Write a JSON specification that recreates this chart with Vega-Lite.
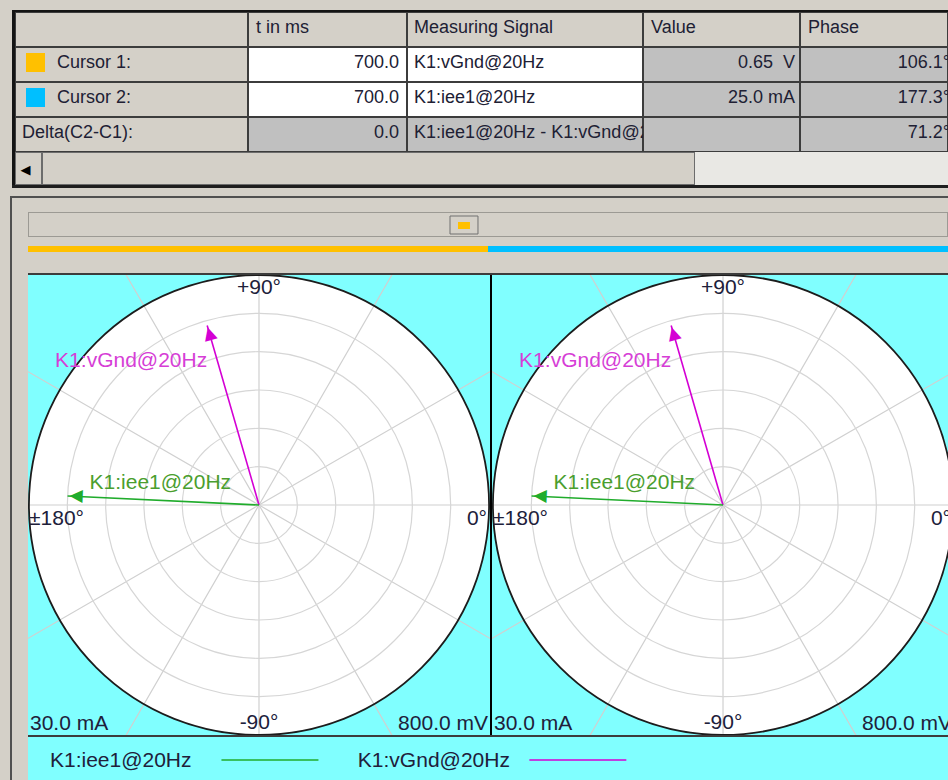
{
  "$schema": "https://vega.github.io/schema/vega-lite/v6.json",
  "background": "#d4d0c8",
  "padding": 0,
  "spacing": 0,
  "bounds": "full",
  "resolve": {"scale": {"color": "independent", "fill": "independent"}},
  "config": {"view": {"stroke": null}, "font": "Liberation Sans", "concat": {"spacing": 0}},
  "datasets": {
    "table": [
      {"row": "header", "col": "label", "text": "", "state": "header"},
      {"row": "c1", "col": "label", "text": "Cursor 1:", "state": "header", "cursor": "Cursor 1"},
      {"row": "c2", "col": "label", "text": "Cursor 2:", "state": "header", "cursor": "Cursor 2"},
      {"row": "delta", "col": "label", "text": "Delta(C2-C1):", "state": "header"},
      {"row": "header", "col": "t", "text": "t in ms", "state": "header"},
      {"row": "c1", "col": "t", "text": "700.0", "state": "input"},
      {"row": "c2", "col": "t", "text": "700.0", "state": "input"},
      {"row": "delta", "col": "t", "text": "0.0", "state": "output"},
      {"row": "header", "col": "signal", "text": "Measuring Signal", "state": "header"},
      {"row": "c1", "col": "signal", "text": "K1:vGnd@20Hz", "state": "input"},
      {"row": "c2", "col": "signal", "text": "K1:iee1@20Hz", "state": "input"},
      {"row": "delta", "col": "signal", "text": "K1:iee1@20Hz - K1:vGnd@20Hz", "state": "output"},
      {"row": "header", "col": "value", "text": "Value", "state": "header"},
      {"row": "c1", "col": "value", "text": "0.65\u00a0\u00a0V", "state": "output"},
      {"row": "c2", "col": "value", "text": "25.0 mA", "state": "output"},
      {"row": "delta", "col": "value", "text": "", "state": "output"},
      {"row": "header", "col": "phase", "text": "Phase", "state": "header"},
      {"row": "c1", "col": "phase", "text": "106.1°", "state": "output"},
      {"row": "c2", "col": "phase", "text": "177.3°", "state": "output"},
      {"row": "delta", "col": "phase", "text": "71.2°", "state": "output"}
    ],
    "cursors": [{"cursor": "Cursor 1"}, {"cursor": "Cursor 2"}],
    "phasors": [
      {"signal": "K1:vGnd@20Hz", "value": 0.65, "unit": "V", "phase": 106.1, "fullScale": 0.8, "scaleLabel": "800.0 mV"},
      {"signal": "K1:iee1@20Hz", "value": 25.0, "unit": "mA", "phase": 177.3, "fullScale": 30, "scaleLabel": "30.0 mA"}
    ],
    "rings": [{"ring": 1}, {"ring": 2}, {"ring": 3}, {"ring": 4}, {"ring": 5}, {"ring": 6}],
    "spokes": [{"deg": 0}, {"deg": 30}, {"deg": 60}, {"deg": 90}, {"deg": 120}, {"deg": 150}, {"deg": 180}, {"deg": 210}, {"deg": 240}, {"deg": 270}, {"deg": 300}, {"deg": 330}],
    "angleLabels": [{"deg": 90, "label": "+90°"}, {"deg": 0, "label": "0°"}, {"deg": -90, "label": "-90°"}, {"deg": 180, "label": "±180°"}]
  },
  "vconcat": [
    {"width": 948, "height": 10, "data": {"values": [{}]}, "mark": {"type": "rect", "fill": "#d4d0c8", "strokeWidth": 0}, "encoding": {}},
    {"hconcat": [
      {"width": 12, "height": 2, "data": {"values": [{}]}, "mark": {"type": "rect", "fill": "#d4d0c8", "strokeWidth": 0}, "encoding": {}},
      {"width": 936, "height": 2, "data": {"values": [{}]}, "mark": {"type": "rect", "fill": "#141414", "strokeWidth": 0}, "encoding": {}}
    ], "spacing": 0, "bounds": "flush"},
    {"hconcat": [
      {"width": 12, "height": 140, "data": {"values": [{}]}, "mark": {"type": "rect", "fill": "#d4d0c8", "strokeWidth": 0}, "encoding": {}},
      {"width": 3, "height": 140, "data": {"values": [{}]}, "mark": {"type": "rect", "fill": "#141414", "strokeWidth": 0}, "encoding": {}},
      {
        "width": 233, "height": 140,
        "data": {"name": "table"},
        "transform": [{"filter": "datum.col === 'label'"}],
        "encoding": {"y": {"field": "row", "type": "nominal", "scale": {"domain": ["header", "c1", "c2", "delta"], "paddingInner": 0, "paddingOuter": 0}, "axis": null}},
        "layer": [
          {"mark": {"type": "rect", "stroke": "#3c3c3c", "strokeWidth": 2, "clip": true},
           "encoding": {"x": {"datum": 0, "type": "quantitative", "scale": {"domain": [0, 1], "nice": false, "zero": false}, "axis": null}, "x2": {"datum": 1},
             "fill": {"field": "state", "type": "nominal", "scale": {"domain": ["header", "input", "output"], "range": ["#d4d0c8", "#ffffff", "#c0c0c0"]}, "legend": null}}},
          {"transform": [{"filter": "isValid(datum.cursor)"}],
           "mark": {"type": "point", "shape": "square", "filled": true, "size": 361, "opacity": 1, "strokeWidth": 0, "xOffset": 20.5, "yOffset": -2},
           "encoding": {"x": {"datum": 0, "type": "quantitative", "scale": {"domain": [0, 1], "nice": false, "zero": false}, "axis": null},
             "color": {"field": "cursor", "type": "nominal", "scale": {"domain": ["Cursor 1", "Cursor 2"], "range": ["#ffc000", "#00bfff"]}, "legend": null}}},
          {"transform": [{"filter": "isValid(datum.cursor)"}],
           "mark": {"type": "text", "align": "left", "baseline": "middle", "dx": 42, "dy": -2, "fontSize": 18, "fill": "#202034"},
           "encoding": {"x": {"datum": 0, "type": "quantitative", "scale": {"domain": [0, 1], "nice": false, "zero": false}, "axis": null}, "text": {"field": "text"}}},
          {"transform": [{"filter": "datum.row === 'delta'"}],
           "mark": {"type": "text", "align": "left", "baseline": "middle", "dx": 7, "dy": -2, "fontSize": 18, "fill": "#202034"},
           "encoding": {"x": {"datum": 0, "type": "quantitative", "scale": {"domain": [0, 1], "nice": false, "zero": false}, "axis": null}, "text": {"field": "text"}}}
        ]
      },
      {
        "width": 159, "height": 140,
        "data": {"name": "table"},
        "transform": [{"filter": "datum.col === 't'"}],
        "encoding": {"y": {"field": "row", "type": "nominal", "scale": {"domain": ["header", "c1", "c2", "delta"], "paddingInner": 0, "paddingOuter": 0}, "axis": null}},
        "layer": [
          {"mark": {"type": "rect", "stroke": "#3c3c3c", "strokeWidth": 2, "clip": true},
           "encoding": {"x": {"datum": 0, "type": "quantitative", "scale": {"domain": [0, 1], "nice": false, "zero": false}, "axis": null}, "x2": {"datum": 1},
             "fill": {"field": "state", "type": "nominal", "scale": {"domain": ["header", "input", "output"], "range": ["#d4d0c8", "#ffffff", "#c0c0c0"]}, "legend": null}}},
          {"transform": [{"filter": "datum.row === 'header'"}],
           "mark": {"type": "text", "align": "left", "baseline": "middle", "dx": 8, "dy": -2, "fontSize": 18, "fill": "#202034"},
           "encoding": {"x": {"datum": 0, "type": "quantitative", "scale": {"domain": [0, 1], "nice": false, "zero": false}, "axis": null}, "text": {"field": "text"}}},
          {"transform": [{"filter": "datum.row !== 'header'"}],
           "mark": {"type": "text", "align": "right", "baseline": "middle", "dx": -8, "dy": -2, "fontSize": 18, "fill": "#202034"},
           "encoding": {"x": {"datum": 1, "type": "quantitative", "scale": {"domain": [0, 1], "nice": false, "zero": false}, "axis": null}, "text": {"field": "text"}}}
        ]
      },
      {
        "width": 236, "height": 140,
        "data": {"name": "table"},
        "transform": [{"filter": "datum.col === 'signal'"}],
        "encoding": {"y": {"field": "row", "type": "nominal", "scale": {"domain": ["header", "c1", "c2", "delta"], "paddingInner": 0, "paddingOuter": 0}, "axis": null}},
        "layer": [
          {"mark": {"type": "rect", "stroke": "#3c3c3c", "strokeWidth": 2, "clip": true},
           "encoding": {"x": {"datum": 0, "type": "quantitative", "scale": {"domain": [0, 1], "nice": false, "zero": false}, "axis": null}, "x2": {"datum": 1},
             "fill": {"field": "state", "type": "nominal", "scale": {"domain": ["header", "input", "output"], "range": ["#d4d0c8", "#ffffff", "#c0c0c0"]}, "legend": null}}},
          {"mark": {"type": "text", "align": "left", "baseline": "middle", "dx": 7, "dy": -2, "fontSize": 18, "fill": "#202034", "clip": true},
           "encoding": {"x": {"datum": 0, "type": "quantitative", "scale": {"domain": [0, 1], "nice": false, "zero": false}, "axis": null}, "text": {"field": "text"}}}
        ]
      },
      {
        "width": 157, "height": 140,
        "data": {"name": "table"},
        "transform": [{"filter": "datum.col === 'value'"}],
        "encoding": {"y": {"field": "row", "type": "nominal", "scale": {"domain": ["header", "c1", "c2", "delta"], "paddingInner": 0, "paddingOuter": 0}, "axis": null}},
        "layer": [
          {"mark": {"type": "rect", "stroke": "#3c3c3c", "strokeWidth": 2, "clip": true},
           "encoding": {"x": {"datum": 0, "type": "quantitative", "scale": {"domain": [0, 1], "nice": false, "zero": false}, "axis": null}, "x2": {"datum": 1},
             "fill": {"field": "state", "type": "nominal", "scale": {"domain": ["header", "input", "output"], "range": ["#d4d0c8", "#ffffff", "#c0c0c0"]}, "legend": null}}},
          {"transform": [{"filter": "datum.row === 'header'"}],
           "mark": {"type": "text", "align": "left", "baseline": "middle", "dx": 8, "dy": -2, "fontSize": 18, "fill": "#202034"},
           "encoding": {"x": {"datum": 0, "type": "quantitative", "scale": {"domain": [0, 1], "nice": false, "zero": false}, "axis": null}, "text": {"field": "text"}}},
          {"transform": [{"filter": "datum.row !== 'header'"}],
           "mark": {"type": "text", "align": "right", "baseline": "middle", "dx": -5, "dy": -2, "fontSize": 18, "fill": "#202034"},
           "encoding": {"x": {"datum": 1, "type": "quantitative", "scale": {"domain": [0, 1], "nice": false, "zero": false}, "axis": null}, "text": {"field": "text"}}}
        ]
      },
      {
        "width": 148, "height": 140,
        "data": {"name": "table"},
        "transform": [{"filter": "datum.col === 'phase'"}],
        "encoding": {"y": {"field": "row", "type": "nominal", "scale": {"domain": ["header", "c1", "c2", "delta"], "paddingInner": 0, "paddingOuter": 0}, "axis": null}},
        "layer": [
          {"mark": {"type": "rect", "stroke": "#3c3c3c", "strokeWidth": 2, "clip": true},
           "encoding": {"x": {"datum": 0, "type": "quantitative", "scale": {"domain": [0, 1], "nice": false, "zero": false}, "axis": null}, "x2": {"datum": 1},
             "fill": {"field": "state", "type": "nominal", "scale": {"domain": ["header", "input", "output"], "range": ["#d4d0c8", "#ffffff", "#c0c0c0"]}, "legend": null}}},
          {"transform": [{"filter": "datum.row === 'header'"}],
           "mark": {"type": "text", "align": "left", "baseline": "middle", "dx": 8, "dy": -2, "fontSize": 18, "fill": "#202034"},
           "encoding": {"x": {"datum": 0, "type": "quantitative", "scale": {"domain": [0, 1], "nice": false, "zero": false}, "axis": null}, "text": {"field": "text"}}},
          {"transform": [{"filter": "datum.row !== 'header'"}],
           "mark": {"type": "text", "align": "right", "baseline": "middle", "dx": 2, "dy": -2, "fontSize": 18, "fill": "#202034", "clip": true},
           "encoding": {"x": {"datum": 1, "type": "quantitative", "scale": {"domain": [0, 1], "nice": false, "zero": false}, "axis": null}, "text": {"field": "text"}}}
        ]
      }
    ], "spacing": 0, "bounds": "flush"},
    {"hconcat": [
      {"width": 12, "height": 33, "data": {"values": [{}]}, "mark": {"type": "rect", "fill": "#d4d0c8", "strokeWidth": 0}, "encoding": {}},
      {"width": 3, "height": 33, "data": {"values": [{}]}, "mark": {"type": "rect", "fill": "#141414", "strokeWidth": 0}, "encoding": {}},
      {"width": 27, "height": 33, "data": {"values": [{}]},
       "layer": [
         {"mark": {"type": "rect", "fill": "#d4d0c8", "stroke": "#6c6c6c", "strokeWidth": 2, "clip": true},
          "encoding": {"x": {"datum": 0, "type": "quantitative", "scale": {"domain": [0, 1], "nice": false, "zero": false}, "axis": null}, "x2": {"datum": 1},
            "y": {"datum": 0, "type": "quantitative", "scale": {"domain": [0, 1], "nice": false, "zero": false}, "axis": null}, "y2": {"datum": 1}}},
         {"mark": {"type": "text", "text": "◀", "font": "DejaVu Sans", "fontSize": 13, "fill": "#000000", "baseline": "middle", "dx": -3, "dy": 1},
          "encoding": {"x": {"datum": 0.5, "type": "quantitative", "scale": {"domain": [0, 1], "nice": false, "zero": false}, "axis": null},
            "y": {"datum": 0.5, "type": "quantitative", "scale": {"domain": [0, 1], "nice": false, "zero": false}, "axis": null}}}
       ]},
      {"width": 653, "height": 33, "data": {"values": [{}]},
       "mark": {"type": "rect", "fill": "#d4d0c8", "stroke": "#6c6c6c", "strokeWidth": 2, "clip": true},
       "encoding": {"x": {"datum": 0, "type": "quantitative", "scale": {"domain": [0, 1], "nice": false, "zero": false}, "axis": null}, "x2": {"datum": 1},
         "y": {"datum": 0, "type": "quantitative", "scale": {"domain": [0, 1], "nice": false, "zero": false}, "axis": null}, "y2": {"datum": 1}}},
      {"width": 253, "height": 33, "data": {"values": [{}]}, "mark": {"type": "rect", "fill": "#e9e8e4", "strokeWidth": 0}, "encoding": {}}
    ], "spacing": 0, "bounds": "flush"},
    {"hconcat": [
      {"width": 12, "height": 3, "data": {"values": [{}]}, "mark": {"type": "rect", "fill": "#d4d0c8", "strokeWidth": 0}, "encoding": {}},
      {"width": 936, "height": 3, "data": {"values": [{}]}, "mark": {"type": "rect", "fill": "#1e1e1e", "strokeWidth": 0}, "encoding": {}}
    ], "spacing": 0, "bounds": "flush"},
    {"width": 948, "height": 8, "data": {"values": [{}]}, "mark": {"type": "rect", "fill": "#d4d0c8", "strokeWidth": 0}, "encoding": {}},
    {"hconcat": [
      {"width": 10, "height": 2, "data": {"values": [{}]}, "mark": {"type": "rect", "fill": "#d4d0c8", "strokeWidth": 0}, "encoding": {}},
      {"width": 938, "height": 2, "data": {"values": [{}]}, "mark": {"type": "rect", "fill": "#505050", "strokeWidth": 0}, "encoding": {}}
    ], "spacing": 0, "bounds": "flush"},
    {"hconcat": [
      {"width": 10, "height": 582, "data": {"values": [{}]}, "mark": {"type": "rect", "fill": "#d4d0c8", "strokeWidth": 0}, "encoding": {}},
      {"width": 2, "height": 582, "data": {"values": [{}]}, "mark": {"type": "rect", "fill": "#505050", "strokeWidth": 0}, "encoding": {}},
      {"width": 16, "height": 582, "data": {"values": [{}]}, "mark": {"type": "rect", "fill": "#d4d0c8", "strokeWidth": 0}, "encoding": {}},
      {"vconcat": [
        {"width": 920, "height": 14, "data": {"values": [{}]}, "mark": {"type": "rect", "fill": "#d4d0c8", "strokeWidth": 0}, "encoding": {}},
        {
          "width": 920, "height": 25,
          "data": {"values": [{}]},
          "layer": [
            {"mark": {"type": "rect", "fill": "#d4d0c8", "stroke": "#9c9a94", "strokeWidth": 2, "clip": true},
             "encoding": {"x": {"datum": 0, "type": "quantitative", "scale": {"domain": [0, 1], "nice": false, "zero": false}, "axis": null}, "x2": {"datum": 1},
               "y": {"datum": 0, "type": "quantitative", "scale": {"domain": [0, 1], "nice": false, "zero": false}, "axis": null}, "y2": {"datum": 1}}},
            {"mark": {"type": "rect", "fill": "#d4d0c8", "stroke": "#707070", "strokeWidth": 1},
             "encoding": {"x": {"datum": 0.4587, "type": "quantitative", "scale": {"domain": [0, 1], "nice": false, "zero": false}, "axis": null}, "x2": {"datum": 0.4891},
               "y": {"datum": 0.12, "type": "quantitative", "scale": {"domain": [0, 1], "nice": false, "zero": false}, "axis": null}, "y2": {"datum": 0.84}}},
            {"mark": {"type": "rect", "fill": "#ffc000"},
             "encoding": {"x": {"datum": 0.4674, "type": "quantitative", "scale": {"domain": [0, 1], "nice": false, "zero": false}, "axis": null}, "x2": {"datum": 0.4804},
               "y": {"datum": 0.32, "type": "quantitative", "scale": {"domain": [0, 1], "nice": false, "zero": false}, "axis": null}, "y2": {"datum": 0.6}}}
          ]
        },
        {"width": 920, "height": 9, "data": {"values": [{}]}, "mark": {"type": "rect", "fill": "#d4d0c8", "strokeWidth": 0}, "encoding": {}},
        {
          "width": 920, "height": 6,
          "data": {"name": "cursors"},
          "mark": {"type": "rect", "strokeWidth": 0},
          "encoding": {
            "x": {"field": "cursor", "type": "nominal", "scale": {"domain": ["Cursor 1", "Cursor 2"], "paddingInner": 0, "paddingOuter": 0}, "axis": null},
            "fill": {"field": "cursor", "type": "nominal", "scale": {"domain": ["Cursor 1", "Cursor 2"], "range": ["#ffc000", "#00bfff"]}, "legend": null}
          }
        },
        {"width": 920, "height": 21, "data": {"values": [{}]}, "mark": {"type": "rect", "fill": "#d4d0c8", "strokeWidth": 0}, "encoding": {}},
        {"width": 920, "height": 2, "data": {"values": [{}]}, "mark": {"type": "rect", "fill": "#3c3c3c", "strokeWidth": 0}, "encoding": {}},
        {"hconcat": [
          {
            "width": 462, "height": 460,
            "resolve": {"scale": {"radius": "independent"}},
            "encoding": {
              "x": {"datum": 0, "type": "quantitative", "scale": {"domain": [-1, 1], "nice": false, "zero": false}, "axis": null},
              "y": {"datum": 0, "type": "quantitative", "scale": {"domain": [-1, 1], "nice": false, "zero": false}, "axis": null}
            },
            "layer": [
              {"data": {"values": [{}]},
               "mark": {"type": "rect", "fill": "#80ffff", "strokeWidth": 0},
               "encoding": {"x": {"datum": -1, "type": "quantitative", "axis": null}, "x2": {"datum": 1}, "y": {"datum": -1, "type": "quantitative", "axis": null}, "y2": {"datum": 1}}},
              {"data": {"name": "rings"}, "transform": [{"filter": "datum.ring === 6"}],
               "mark": {"type": "arc", "theta": 0, "theta2": 6.2832, "fill": "#ffffff", "stroke": null, "clip": true},
               "encoding": {"radius": {"field": "ring", "type": "quantitative", "stack": null, "scale": {"type": "linear", "domain": [0, 6], "range": [0, 230], "nice": false, "zero": true}}}},
              {"data": {"name": "spokes"},
               "mark": {"type": "arc", "fill": "transparent", "stroke": "#d0d0d0", "strokeWidth": 1.2, "clip": true},
               "encoding": {"theta": {"field": "deg", "type": "quantitative", "stack": null, "scale": {"domain": [90, -270], "range": [0, 6.283185307179586], "nice": false, "zero": false}},
                 "theta2": {"field": "deg"}, "radius": {"value": 340}}},
              {"data": {"name": "rings"}, "transform": [{"filter": "datum.ring < 6"}],
               "mark": {"type": "arc", "theta": 0, "theta2": 6.2832, "fill": "transparent", "stroke": "#d6d6d6", "strokeWidth": 1.2, "clip": true},
               "encoding": {"radius": {"field": "ring", "type": "quantitative", "stack": null, "scale": {"type": "linear", "domain": [0, 6], "range": [0, 230], "nice": false, "zero": true}}}},
              {"data": {"name": "rings"}, "transform": [{"filter": "datum.ring === 6"}],
               "mark": {"type": "arc", "theta": 0, "theta2": 6.2832, "fill": "transparent", "stroke": "#1c1c1c", "strokeWidth": 1.8, "clip": true},
               "encoding": {"radius": {"field": "ring", "type": "quantitative", "stack": null, "scale": {"type": "linear", "domain": [0, 6], "range": [0, 230], "nice": false, "zero": true}}}},
              {"data": {"name": "phasors"}, "transform": [{"filter": "datum.signal === 'K1:vGnd@20Hz'"}],
               "mark": {"type": "arc", "fill": "transparent", "stroke": "#d400d4", "strokeWidth": 1.6, "clip": true},
               "encoding": {"theta": {"field": "phase", "type": "quantitative", "stack": null, "scale": {"domain": [90, -270], "range": [0, 6.283185307179586], "nice": false, "zero": false}},
                 "theta2": {"field": "phase"},
                 "radius": {"field": "value", "type": "quantitative", "stack": null, "scale": {"type": "linear", "domain": [0, 0.8], "range": [0, 230], "nice": false, "zero": true}}}},
              {"data": {"name": "phasors"}, "transform": [{"filter": "datum.signal === 'K1:iee1@20Hz'"}],
               "mark": {"type": "arc", "fill": "transparent", "stroke": "#20ac2c", "strokeWidth": 1.6, "clip": true},
               "encoding": {"theta": {"field": "phase", "type": "quantitative", "stack": null, "scale": {"domain": [90, -270], "range": [0, 6.283185307179586], "nice": false, "zero": false}},
                 "theta2": {"field": "phase"},
                 "radius": {"field": "value", "type": "quantitative", "stack": null, "scale": {"type": "linear", "domain": [0, 30], "range": [0, 230], "nice": false, "zero": true}}}},
              {"data": {"name": "phasors"}, "transform": [{"filter": "datum.signal === 'K1:vGnd@20Hz'"}],
               "mark": {"type": "text", "text": "▲", "font": "DejaVu Sans", "fontSize": 17, "align": "center", "baseline": "top", "fill": "#d400d4", "clip": true},
               "encoding": {"theta": {"field": "phase", "type": "quantitative", "stack": null, "scale": {"domain": [90, -270], "range": [0, 6.283185307179586], "nice": false, "zero": false}},
                 "radius": {"field": "value", "type": "quantitative", "stack": null, "scale": {"type": "linear", "domain": [0, 0.8], "range": [0, 230], "nice": false, "zero": true}},
                 "angle": {"field": "phase", "type": "quantitative", "scale": {"domain": [90, -270], "range": [0, 360], "nice": false, "zero": false}}}},
              {"data": {"name": "phasors"}, "transform": [{"filter": "datum.signal === 'K1:iee1@20Hz'"}],
               "mark": {"type": "text", "text": "▲", "font": "DejaVu Sans", "fontSize": 17, "align": "center", "baseline": "top", "fill": "#20ac2c", "clip": true},
               "encoding": {"theta": {"field": "phase", "type": "quantitative", "stack": null, "scale": {"domain": [90, -270], "range": [0, 6.283185307179586], "nice": false, "zero": false}},
                 "radius": {"field": "value", "type": "quantitative", "stack": null, "scale": {"type": "linear", "domain": [0, 30], "range": [0, 230], "nice": false, "zero": true}},
                 "angle": {"field": "phase", "type": "quantitative", "scale": {"domain": [90, -270], "range": [0, 360], "nice": false, "zero": false}}}},
              {"data": {"name": "phasors"}, "transform": [{"filter": "datum.signal === 'K1:vGnd@20Hz'"}],
               "mark": {"type": "text", "align": "right", "baseline": "middle", "dx": 0, "dy": 36, "fontSize": 21, "fill": "#d63ed6", "clip": true},
               "encoding": {"theta": {"field": "phase", "type": "quantitative", "stack": null, "scale": {"domain": [90, -270], "range": [0, 6.283185307179586], "nice": false, "zero": false}},
                 "radius": {"field": "value", "type": "quantitative", "stack": null, "scale": {"type": "linear", "domain": [0, 0.8], "range": [0, 230], "nice": false, "zero": true}},
                 "text": {"field": "signal"}}},
              {"data": {"name": "phasors"}, "transform": [{"filter": "datum.signal === 'K1:iee1@20Hz'"}],
               "mark": {"type": "text", "align": "left", "baseline": "middle", "dx": 22, "dy": -13, "fontSize": 21, "fill": "#4a9e2e", "clip": true},
               "encoding": {"theta": {"field": "phase", "type": "quantitative", "stack": null, "scale": {"domain": [90, -270], "range": [0, 6.283185307179586], "nice": false, "zero": false}},
                 "radius": {"field": "value", "type": "quantitative", "stack": null, "scale": {"type": "linear", "domain": [0, 30], "range": [0, 230], "nice": false, "zero": true}},
                 "text": {"field": "signal"}}},
              {"data": {"name": "angleLabels"}, "transform": [{"filter": "datum.deg === 90 || datum.deg === -90"}],
               "mark": {"type": "text", "align": "center", "baseline": "middle", "fontSize": 21, "fill": "#20203a", "clip": true},
               "encoding": {"theta": {"field": "deg", "type": "quantitative", "stack": null, "scale": {"domain": [90, -270], "range": [0, 6.283185307179586], "nice": false, "zero": false}},
                 "radius": {"value": 217.5}, "text": {"field": "label"}}},
              {"data": {"name": "angleLabels"}, "transform": [{"filter": "datum.deg === 0"}],
               "mark": {"type": "text", "align": "right", "baseline": "middle", "dx": -2, "dy": 14, "fontSize": 21, "fill": "#20203a", "clip": true},
               "encoding": {"theta": {"field": "deg", "type": "quantitative", "stack": null, "scale": {"domain": [90, -270], "range": [0, 6.283185307179586], "nice": false, "zero": false}},
                 "radius": {"value": 230}, "text": {"field": "label"}}},
              {"data": {"name": "angleLabels"}, "transform": [{"filter": "datum.deg === 180"}],
               "mark": {"type": "text", "align": "left", "baseline": "middle", "dx": 0, "dy": 14, "fontSize": 21, "fill": "#20203a", "clip": true},
               "encoding": {"theta": {"field": "deg", "type": "quantitative", "stack": null, "scale": {"domain": [90, -270], "range": [0, 6.283185307179586], "nice": false, "zero": false}},
                 "radius": {"value": 230}, "text": {"field": "label"}}},
              {"data": {"name": "phasors"}, "transform": [{"filter": "datum.signal === 'K1:iee1@20Hz'"}],
               "mark": {"type": "text", "align": "left", "baseline": "alphabetic", "dx": 2, "dy": -5, "fontSize": 21, "fill": "#20203a", "clip": true},
               "encoding": {"x": {"datum": -1, "type": "quantitative", "axis": null}, "y": {"datum": -1, "type": "quantitative", "axis": null}, "text": {"field": "scaleLabel"}}},
              {"data": {"name": "phasors"}, "transform": [{"filter": "datum.signal === 'K1:vGnd@20Hz'"}],
               "mark": {"type": "text", "align": "right", "baseline": "alphabetic", "dx": -2, "dy": -5, "fontSize": 21, "fill": "#20203a", "clip": true},
               "encoding": {"x": {"datum": 1, "type": "quantitative", "axis": null}, "y": {"datum": -1, "type": "quantitative", "axis": null}, "text": {"field": "scaleLabel"}}}
            ]
          },
          {"width": 2, "height": 460, "data": {"values": [{}]}, "mark": {"type": "rect", "fill": "#000000", "strokeWidth": 0}, "encoding": {}},
          {
            "width": 456, "height": 460,
            "resolve": {"scale": {"radius": "independent"}},
            "encoding": {
              "x": {"datum": 0, "type": "quantitative", "scale": {"domain": [-1, 0.974], "nice": false, "zero": false}, "axis": null},
              "y": {"datum": 0, "type": "quantitative", "scale": {"domain": [-1, 1], "nice": false, "zero": false}, "axis": null}
            },
            "layer": [
              {"data": {"values": [{}]},
               "mark": {"type": "rect", "fill": "#80ffff", "strokeWidth": 0},
               "encoding": {"x": {"datum": -1, "type": "quantitative", "axis": null}, "x2": {"datum": 0.974}, "y": {"datum": -1, "type": "quantitative", "axis": null}, "y2": {"datum": 1}}},
              {"data": {"name": "rings"}, "transform": [{"filter": "datum.ring === 6"}],
               "mark": {"type": "arc", "theta": 0, "theta2": 6.2832, "fill": "#ffffff", "stroke": null, "clip": true},
               "encoding": {"radius": {"field": "ring", "type": "quantitative", "stack": null, "scale": {"type": "linear", "domain": [0, 6], "range": [0, 230], "nice": false, "zero": true}}}},
              {"data": {"name": "spokes"},
               "mark": {"type": "arc", "fill": "transparent", "stroke": "#d0d0d0", "strokeWidth": 1.2, "clip": true},
               "encoding": {"theta": {"field": "deg", "type": "quantitative", "stack": null, "scale": {"domain": [90, -270], "range": [0, 6.283185307179586], "nice": false, "zero": false}},
                 "theta2": {"field": "deg"}, "radius": {"value": 340}}},
              {"data": {"name": "rings"}, "transform": [{"filter": "datum.ring < 6"}],
               "mark": {"type": "arc", "theta": 0, "theta2": 6.2832, "fill": "transparent", "stroke": "#d6d6d6", "strokeWidth": 1.2, "clip": true},
               "encoding": {"radius": {"field": "ring", "type": "quantitative", "stack": null, "scale": {"type": "linear", "domain": [0, 6], "range": [0, 230], "nice": false, "zero": true}}}},
              {"data": {"name": "rings"}, "transform": [{"filter": "datum.ring === 6"}],
               "mark": {"type": "arc", "theta": 0, "theta2": 6.2832, "fill": "transparent", "stroke": "#1c1c1c", "strokeWidth": 1.8, "clip": true},
               "encoding": {"radius": {"field": "ring", "type": "quantitative", "stack": null, "scale": {"type": "linear", "domain": [0, 6], "range": [0, 230], "nice": false, "zero": true}}}},
              {"data": {"name": "phasors"}, "transform": [{"filter": "datum.signal === 'K1:vGnd@20Hz'"}],
               "mark": {"type": "arc", "fill": "transparent", "stroke": "#d400d4", "strokeWidth": 1.6, "clip": true},
               "encoding": {"theta": {"field": "phase", "type": "quantitative", "stack": null, "scale": {"domain": [90, -270], "range": [0, 6.283185307179586], "nice": false, "zero": false}},
                 "theta2": {"field": "phase"},
                 "radius": {"field": "value", "type": "quantitative", "stack": null, "scale": {"type": "linear", "domain": [0, 0.8], "range": [0, 230], "nice": false, "zero": true}}}},
              {"data": {"name": "phasors"}, "transform": [{"filter": "datum.signal === 'K1:iee1@20Hz'"}],
               "mark": {"type": "arc", "fill": "transparent", "stroke": "#20ac2c", "strokeWidth": 1.6, "clip": true},
               "encoding": {"theta": {"field": "phase", "type": "quantitative", "stack": null, "scale": {"domain": [90, -270], "range": [0, 6.283185307179586], "nice": false, "zero": false}},
                 "theta2": {"field": "phase"},
                 "radius": {"field": "value", "type": "quantitative", "stack": null, "scale": {"type": "linear", "domain": [0, 30], "range": [0, 230], "nice": false, "zero": true}}}},
              {"data": {"name": "phasors"}, "transform": [{"filter": "datum.signal === 'K1:vGnd@20Hz'"}],
               "mark": {"type": "text", "text": "▲", "font": "DejaVu Sans", "fontSize": 17, "align": "center", "baseline": "top", "fill": "#d400d4", "clip": true},
               "encoding": {"theta": {"field": "phase", "type": "quantitative", "stack": null, "scale": {"domain": [90, -270], "range": [0, 6.283185307179586], "nice": false, "zero": false}},
                 "radius": {"field": "value", "type": "quantitative", "stack": null, "scale": {"type": "linear", "domain": [0, 0.8], "range": [0, 230], "nice": false, "zero": true}},
                 "angle": {"field": "phase", "type": "quantitative", "scale": {"domain": [90, -270], "range": [0, 360], "nice": false, "zero": false}}}},
              {"data": {"name": "phasors"}, "transform": [{"filter": "datum.signal === 'K1:iee1@20Hz'"}],
               "mark": {"type": "text", "text": "▲", "font": "DejaVu Sans", "fontSize": 17, "align": "center", "baseline": "top", "fill": "#20ac2c", "clip": true},
               "encoding": {"theta": {"field": "phase", "type": "quantitative", "stack": null, "scale": {"domain": [90, -270], "range": [0, 6.283185307179586], "nice": false, "zero": false}},
                 "radius": {"field": "value", "type": "quantitative", "stack": null, "scale": {"type": "linear", "domain": [0, 30], "range": [0, 230], "nice": false, "zero": true}},
                 "angle": {"field": "phase", "type": "quantitative", "scale": {"domain": [90, -270], "range": [0, 360], "nice": false, "zero": false}}}},
              {"data": {"name": "phasors"}, "transform": [{"filter": "datum.signal === 'K1:vGnd@20Hz'"}],
               "mark": {"type": "text", "align": "right", "baseline": "middle", "dx": 0, "dy": 36, "fontSize": 21, "fill": "#d63ed6", "clip": true},
               "encoding": {"theta": {"field": "phase", "type": "quantitative", "stack": null, "scale": {"domain": [90, -270], "range": [0, 6.283185307179586], "nice": false, "zero": false}},
                 "radius": {"field": "value", "type": "quantitative", "stack": null, "scale": {"type": "linear", "domain": [0, 0.8], "range": [0, 230], "nice": false, "zero": true}},
                 "text": {"field": "signal"}}},
              {"data": {"name": "phasors"}, "transform": [{"filter": "datum.signal === 'K1:iee1@20Hz'"}],
               "mark": {"type": "text", "align": "left", "baseline": "middle", "dx": 22, "dy": -13, "fontSize": 21, "fill": "#4a9e2e", "clip": true},
               "encoding": {"theta": {"field": "phase", "type": "quantitative", "stack": null, "scale": {"domain": [90, -270], "range": [0, 6.283185307179586], "nice": false, "zero": false}},
                 "radius": {"field": "value", "type": "quantitative", "stack": null, "scale": {"type": "linear", "domain": [0, 30], "range": [0, 230], "nice": false, "zero": true}},
                 "text": {"field": "signal"}}},
              {"data": {"name": "angleLabels"}, "transform": [{"filter": "datum.deg === 90 || datum.deg === -90"}],
               "mark": {"type": "text", "align": "center", "baseline": "middle", "fontSize": 21, "fill": "#20203a", "clip": true},
               "encoding": {"theta": {"field": "deg", "type": "quantitative", "stack": null, "scale": {"domain": [90, -270], "range": [0, 6.283185307179586], "nice": false, "zero": false}},
                 "radius": {"value": 217.5}, "text": {"field": "label"}}},
              {"data": {"name": "angleLabels"}, "transform": [{"filter": "datum.deg === 0"}],
               "mark": {"type": "text", "align": "right", "baseline": "middle", "dx": -2, "dy": 14, "fontSize": 21, "fill": "#20203a", "clip": true},
               "encoding": {"theta": {"field": "deg", "type": "quantitative", "stack": null, "scale": {"domain": [90, -270], "range": [0, 6.283185307179586], "nice": false, "zero": false}},
                 "radius": {"value": 230}, "text": {"field": "label"}}},
              {"data": {"name": "angleLabels"}, "transform": [{"filter": "datum.deg === 180"}],
               "mark": {"type": "text", "align": "left", "baseline": "middle", "dx": 0, "dy": 14, "fontSize": 21, "fill": "#20203a", "clip": true},
               "encoding": {"theta": {"field": "deg", "type": "quantitative", "stack": null, "scale": {"domain": [90, -270], "range": [0, 6.283185307179586], "nice": false, "zero": false}},
                 "radius": {"value": 230}, "text": {"field": "label"}}},
              {"data": {"name": "phasors"}, "transform": [{"filter": "datum.signal === 'K1:iee1@20Hz'"}],
               "mark": {"type": "text", "align": "left", "baseline": "alphabetic", "dx": 2, "dy": -5, "fontSize": 21, "fill": "#20203a", "clip": true},
               "encoding": {"x": {"datum": -1, "type": "quantitative", "axis": null}, "y": {"datum": -1, "type": "quantitative", "axis": null}, "text": {"field": "scaleLabel"}}},
              {"data": {"name": "phasors"}, "transform": [{"filter": "datum.signal === 'K1:vGnd@20Hz'"}],
               "mark": {"type": "text", "align": "right", "baseline": "alphabetic", "dx": -2, "dy": -5, "fontSize": 21, "fill": "#20203a", "clip": true},
               "encoding": {"x": {"datum": 1, "type": "quantitative", "axis": null}, "y": {"datum": -1, "type": "quantitative", "axis": null}, "text": {"field": "scaleLabel"}}}
            ]
          }
        ], "spacing": 0, "bounds": "flush"},
        {"width": 920, "height": 2, "data": {"values": [{}]}, "mark": {"type": "rect", "fill": "#3c3c3c", "strokeWidth": 0}, "encoding": {}},
        {
          "width": 920, "height": 43,
          "layer": [
            {"data": {"values": [{}]}, "mark": {"type": "rect", "fill": "#80ffff", "strokeWidth": 0}, "encoding": {}},
            {"data": {"name": "phasors"},
             "mark": {"type": "text", "align": "left", "baseline": "middle", "dx": -132, "dy": 2, "fontSize": 21, "fill": "#20203a"},
             "encoding": {
               "x": {"field": "signal", "type": "nominal", "scale": {"domain": ["K1:iee1@20Hz", "K1:vGnd@20Hz"], "paddingInner": 0, "paddingOuter": 0.494, "align": 0}, "axis": null},
               "text": {"field": "signal"}}},
            {"data": {"name": "phasors"},
             "mark": {"type": "tick", "orient": "horizontal", "size": 97, "thickness": 1.6, "xOffset": 88, "yOffset": 1.5, "opacity": 1},
             "encoding": {
               "x": {"field": "signal", "type": "nominal", "scale": {"domain": ["K1:iee1@20Hz", "K1:vGnd@20Hz"], "paddingInner": 0, "paddingOuter": 0.494, "align": 0}, "axis": null},
               "color": {"field": "signal", "type": "nominal", "scale": {"domain": ["K1:iee1@20Hz", "K1:vGnd@20Hz"], "range": ["#20ac2c", "#d400d4"]}, "legend": null}}}
          ]
        }
      ], "spacing": 0, "bounds": "full"}
    ], "spacing": 0, "bounds": "full"}
  ]
}
